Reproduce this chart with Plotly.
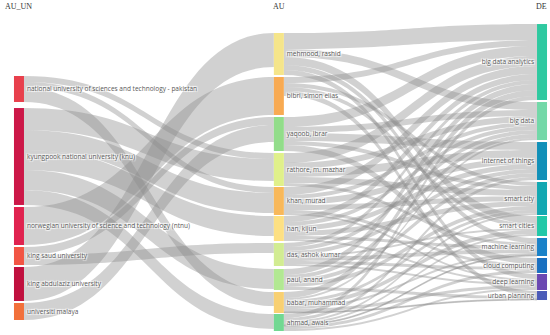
import plotly.graph_objects as go

# ---- data ----
universities = [
    "national university of sciences and technology - pakistan",
    "kyungpook national university (knu)",
    "norwegian university of science and technology (ntnu)",
    "king saud university",
    "king abdulaziz university",
    "universiti malaya",
]
authors = [
    "mehmood, rashid", "bibri, simon elias", "yaqoob, ibrar", "rathore, m. mazhar",
    "khan, murad", "han, kijun", "das, ashok kumar", "paul, anand",
    "babar, muhammad", "ahmad, awais",
]
keywords = [
    "big data analytics", "big data", "internet of things", "smart city",
    "smart cities", "machine learning", "cloud computing", "deep learning",
    "urban planning",
]

# university -> author (source, target, value)
uni_author = [
    ("national university of sciences and technology - pakistan", "rathore, m. mazhar", 6),
    ("national university of sciences and technology - pakistan", "khan, murad", 6),
    ("national university of sciences and technology - pakistan", "babar, muhammad", 14),
    ("kyungpook national university (knu)", "rathore, m. mazhar", 22),
    ("kyungpook national university (knu)", "khan, murad", 20),
    ("kyungpook national university (knu)", "han, kijun", 20),
    ("kyungpook national university (knu)", "paul, anand", 20),
    ("kyungpook national university (knu)", "ahmad, awais", 15),
    ("norwegian university of science and technology (ntnu)", "bibri, simon elias", 38),
    ("king saud university", "yaqoob, ibrar", 8),
    ("king saud university", "das, ashok kumar", 10),
    ("king abdulaziz university", "mehmood, rashid", 34),
    ("universiti malaya", "yaqoob, ibrar", 17),
]

# author -> keyword values (rows: authors, cols: keywords)
author_keyword = {
    "mehmood, rashid":    [16, 8, 0, 0, 8, 5, 0, 5, 0],
    "bibri, simon elias": [6, 0, 0, 4, 4, 0, 0, 0, 5],
    "yaqoob, ibrar":      [10, 6, 8, 4, 0, 0, 6, 0, 0],
    "rathore, m. mazhar": [10, 6, 8, 6, 0, 3, 0, 0, 0],
    "khan, murad":        [8, 4, 6, 5, 0, 0, 3, 2, 0],
    "han, kijun":         [6, 4, 5, 5, 0, 3, 0, 2, 0],
    "das, ashok kumar":   [4, 4, 4, 0, 2, 4, 3, 2, 0],
    "paul, anand":        [6, 4, 4, 4, 0, 0, 0, 0, 3],
    "babar, muhammad":    [6, 2, 0, 3, 4, 2, 0, 3, 1],
    "ahmad, awais":       [4, 0, 3, 2, 2, 1, 3, 2, 0],
}

uni_colors = ["#e8404c", "#cc1848", "#e0234f", "#f25544", "#c0103e", "#f2703a"]
author_colors = ["#f5e58a", "#f8aa52", "#92dd8a", "#e0f08a", "#f8b85a",
                 "#fde082", "#d2ec92", "#b2e892", "#f8d072", "#72d892"]
keyword_colors = ["#2fc9a0", "#72d8a8", "#1190b8", "#12a8b2", "#22c8a8",
                  "#1a82c8", "#1a70c0", "#6a48b2", "#4a5ab8"]

# layout positions (normalized)
uni_y = [0.2117, 0.4316, 0.658, 0.7557, 0.8469, 0.9365]
author_y = [0.0977, 0.2345, 0.3583, 0.474, 0.5765, 0.6661, 0.7508, 0.8322, 0.9072, 0.9723]
keyword_y = [0.1238, 0.316, 0.4463, 0.5684, 0.658, 0.7264, 0.7866, 0.8404, 0.8844]
col_x = [0.0345, 0.507, 0.9855]

labels = universities + authors + keywords
idx = {n: i for i, n in enumerate(labels)}
colors = uni_colors + author_colors + keyword_colors
xs = [col_x[0]] * len(universities) + [col_x[1]] * len(authors) + [col_x[2]] * len(keywords)
ys = uni_y + author_y + keyword_y

src, tgt, val = [], [], []
for s, t, v in uni_author:
    src.append(idx[s]); tgt.append(idx[t]); val.append(v)
for a, row in author_keyword.items():
    for k, v in zip(keywords, row):
        if v > 0:
            src.append(idx[a]); tgt.append(idx[k]); val.append(v)

fig = go.Figure(go.Sankey(
    arrangement="freeform",
    node=dict(
        label=labels,
        color=colors,
        x=xs,
        y=ys,
        pad=2.8,
        thickness=10,
        line=dict(width=0),
    ),
    link=dict(source=src, target=tgt, value=val, color="rgba(140,140,140,0.40)"),
    textfont=dict(family="Open Sans, DejaVu Sans, sans-serif", size=6.5, color="#5a5a5a"),
))

for text, x, anchor in [("AU_UN", 0.005, "left"), ("AU", 0.508, "center"), ("DE", 0.985, "center")]:
    fig.add_annotation(text=text, x=x, y=1.0586, xref="paper", yref="paper",
                       xanchor=anchor, yanchor="middle", showarrow=False,
                       font=dict(family="Liberation Serif, serif", size=8, color="#333333"))

fig.update_layout(
    width=550, height=335,
    margin=dict(l=0, r=0, t=24, b=4),
    paper_bgcolor="white",
    plot_bgcolor="white",
    font=dict(color="#5a5a5a"),
)

fig.write_html("out.html", config={"displayModeBar": False},
               post_script="document.body.style.margin='0px';")
